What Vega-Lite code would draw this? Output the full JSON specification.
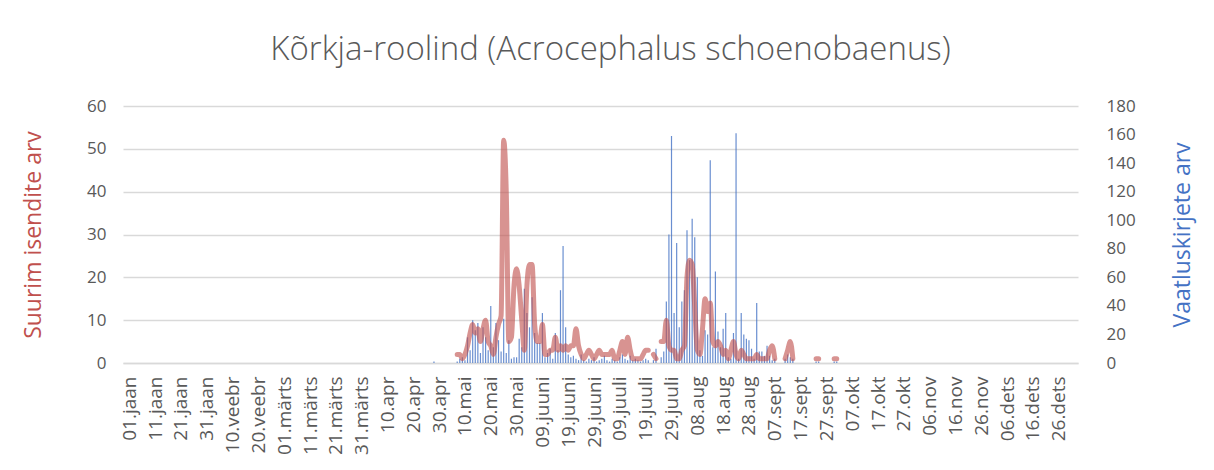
{
  "$schema": "https://vega.github.io/schema/vega-lite/v6.json",
  "width": 955,
  "height": 257,
  "autosize": {"type": "none"},
  "padding": {"left": 123, "top": 106, "right": 136, "bottom": 107},
  "background": "white",
  "config": {
    "font": "Open Sans",
    "view": {"stroke": null},
    "axis": {"labelFont": "Open Sans", "titleFont": "Open Sans", "labelColor": "#595959", "ticks": false, "domain": false, "titleFontWeight": "normal"}
  },
  "title": {
    "text": "Kõrkja-roolind (Acrocephalus schoenobaenus)",
    "fontSize": 33,
    "fontWeight": 300,
    "color": "#595959",
    "font": "Open Sans",
    "anchor": "middle",
    "dx": 10,
    "offset": 30
  },
  "data": {
    "values": [
      {"day": 119, "records": 1, "max": null},
      {"day": 128, "records": 1, "max": 2},
      {"day": 129, "records": 3, "max": 2},
      {"day": 130, "records": 4, "max": 1},
      {"day": 131, "records": 2, "max": 2},
      {"day": 132, "records": 18, "max": 4},
      {"day": 133, "records": 9, "max": 7},
      {"day": 134, "records": 30, "max": 9},
      {"day": 135, "records": 23, "max": 7},
      {"day": 136, "records": 28, "max": 8},
      {"day": 137, "records": 7, "max": 5},
      {"day": 138, "records": 25, "max": 8},
      {"day": 139, "records": 18, "max": 10},
      {"day": 140, "records": 9, "max": 5},
      {"day": 141, "records": 40, "max": 4},
      {"day": 142, "records": 11, "max": 2},
      {"day": 143, "records": 28, "max": 6},
      {"day": 144, "records": 16, "max": 9},
      {"day": 145, "records": 8, "max": 11},
      {"day": 146, "records": 31, "max": 52},
      {"day": 147, "records": 7, "max": 40},
      {"day": 148, "records": 16, "max": 5},
      {"day": 149, "records": 3, "max": 6},
      {"day": 150, "records": 4, "max": 18},
      {"day": 151, "records": 4, "max": 22},
      {"day": 152, "records": 17, "max": 18},
      {"day": 153, "records": 11, "max": 10},
      {"day": 154, "records": 52, "max": 3},
      {"day": 155, "records": 35, "max": 18},
      {"day": 156, "records": 25, "max": 23},
      {"day": 157, "records": 46, "max": 23},
      {"day": 158, "records": 21, "max": 9},
      {"day": 159, "records": 14, "max": 5},
      {"day": 160, "records": 14, "max": 5},
      {"day": 161, "records": 35, "max": 9},
      {"day": 162, "records": 4, "max": 2},
      {"day": 163, "records": 7, "max": 2},
      {"day": 164, "records": 10, "max": 3},
      {"day": 165, "records": 3, "max": 3},
      {"day": 166, "records": 21, "max": 6},
      {"day": 167, "records": 9, "max": 3},
      {"day": 168, "records": 51, "max": 4},
      {"day": 169, "records": 82, "max": 3},
      {"day": 170, "records": 25, "max": 4},
      {"day": 171, "records": 6, "max": 3},
      {"day": 172, "records": 4, "max": 4},
      {"day": 173, "records": 5, "max": 4},
      {"day": 174, "records": 3, "max": 8},
      {"day": 175, "records": 2, "max": 4},
      {"day": 176, "records": 6, "max": 2},
      {"day": 177, "records": 2, "max": 1},
      {"day": 178, "records": 1, "max": 2},
      {"day": 179, "records": 3, "max": 3},
      {"day": 180, "records": 2, "max": 2},
      {"day": 181, "records": 4, "max": 1},
      {"day": 182, "records": 1, "max": 2},
      {"day": 183, "records": 2, "max": 3},
      {"day": 184, "records": 3, "max": 2},
      {"day": 185, "records": 5, "max": 2},
      {"day": 186, "records": 2, "max": 2},
      {"day": 187, "records": 1, "max": 2},
      {"day": 188, "records": 3, "max": 3},
      {"day": 189, "records": 2, "max": 1},
      {"day": 190, "records": 1, "max": 1},
      {"day": 191, "records": 4, "max": 3},
      {"day": 192, "records": 6, "max": 5},
      {"day": 193, "records": 3, "max": 2},
      {"day": 194, "records": 2, "max": 6},
      {"day": 195, "records": 5, "max": 3},
      {"day": 196, "records": 2, "max": 1},
      {"day": 197, "records": 3, "max": 1},
      {"day": 198, "records": 2, "max": 1},
      {"day": 199, "records": 1, "max": 1},
      {"day": 200, "records": 2, "max": 2},
      {"day": 201, "records": 3, "max": 3},
      {"day": 202, "records": 2, "max": 3},
      {"day": 203, "records": null, "max": null},
      {"day": 204, "records": 2, "max": 2},
      {"day": 205, "records": 10, "max": 1},
      {"day": 206, "records": null, "max": null},
      {"day": 207, "records": 4, "max": 5},
      {"day": 208, "records": 8, "max": 5},
      {"day": 209, "records": 43, "max": 10},
      {"day": 210, "records": 90, "max": 4},
      {"day": 211, "records": 159, "max": 3},
      {"day": 212, "records": 35, "max": 3},
      {"day": 213, "records": 84, "max": 1},
      {"day": 214, "records": 25, "max": 1},
      {"day": 215, "records": 43, "max": 3},
      {"day": 216, "records": 51, "max": 4},
      {"day": 217, "records": 93, "max": 20},
      {"day": 218, "records": 72, "max": 24},
      {"day": 219, "records": 101, "max": 23},
      {"day": 220, "records": 88, "max": 13},
      {"day": 221, "records": 60, "max": 3},
      {"day": 222, "records": 9, "max": 2},
      {"day": 223, "records": 5, "max": 8},
      {"day": 224, "records": 23, "max": 15},
      {"day": 225, "records": 20, "max": 12},
      {"day": 226, "records": 142, "max": 14},
      {"day": 227, "records": 11, "max": 5},
      {"day": 228, "records": 64, "max": 4},
      {"day": 229, "records": 22, "max": 5},
      {"day": 230, "records": 11, "max": 4},
      {"day": 231, "records": 24, "max": 2},
      {"day": 232, "records": 35, "max": 3},
      {"day": 233, "records": 4, "max": 1},
      {"day": 234, "records": 3, "max": 3},
      {"day": 235, "records": 21, "max": 5},
      {"day": 236, "records": 161, "max": 2},
      {"day": 237, "records": 3, "max": 1},
      {"day": 238, "records": 35, "max": 3},
      {"day": 239, "records": 20, "max": 2},
      {"day": 240, "records": 17, "max": 1},
      {"day": 241, "records": 16, "max": 1},
      {"day": 242, "records": 10, "max": 1},
      {"day": 243, "records": 3, "max": 1},
      {"day": 244, "records": 42, "max": 2},
      {"day": 245, "records": 8, "max": 1},
      {"day": 246, "records": 8, "max": 1},
      {"day": 247, "records": 5, "max": 1},
      {"day": 248, "records": 12, "max": 1},
      {"day": 249, "records": 5, "max": 3},
      {"day": 250, "records": 2, "max": 4},
      {"day": 251, "records": 3, "max": 1},
      {"day": 252, "records": null, "max": null},
      {"day": 255, "records": 3, "max": 1},
      {"day": 256, "records": 6, "max": 3},
      {"day": 257, "records": 4, "max": 5},
      {"day": 258, "records": 3, "max": 1},
      {"day": 259, "records": null, "max": null},
      {"day": 267, "records": 1, "max": 1},
      {"day": 268, "records": 1, "max": 1},
      {"day": 269, "records": null, "max": null},
      {"day": 274, "records": 1, "max": 1},
      {"day": 275, "records": 1, "max": 1}
    ]
  },
  "encoding": {
    "x": {
      "field": "day",
      "type": "quantitative",
      "scale": {"domain": [0.5, 366.5], "nice": false, "zero": false},
      "axis": {
        "title": null,
        "values": [1, 11, 21, 31, 41, 51, 61, 71, 81, 91, 101, 111, 121, 131, 141, 151, 161, 171, 181, 191, 201, 211, 221, 231, 241, 251, 261, 271, 281, 291, 301, 311, 321, 331, 341, 351, 361],
        "labelExpr": "['01.jaan','11.jaan','21.jaan','31.jaan','10.veebr','20.veebr','01.märts','11.märts','21.märts','31.märts','10.apr','20.apr','30.apr','10.mai','20.mai','30.mai','09.juuni','19.juuni','29.juuni','09.juuli','19.juuli','29.juuli','08.aug','18.aug','28.aug','07.sept','17.sept','27.sept','07.okt','17.okt','27.okt','06.nov','16.nov','26.nov','06.dets','16.dets','26.dets'][floor((datum.value - 1) / 10)]",
        "labelAngle": -90,
        "labelAlign": "right",
        "labelBaseline": "middle",
        "labelFontSize": 19,
        "labelPadding": 13,
        "labelOverlap": false,
        "labelBound": false,
        "labelFlush": false,
        "domain": true,
        "domainColor": "#D9D9D9",
        "domainWidth": 1.5,
        "grid": false
      }
    }
  },
  "layer": [
    {
      "mark": {"type": "bar", "color": "#4472C4", "opacity": 0.8, "width": 1.2},
      "encoding": {
        "y": {
          "field": "records",
          "type": "quantitative",
          "scale": {"domain": [0, 180], "nice": false},
          "axis": {
            "orient": "right",
            "title": "Vaatluskirjete arv",
            "titleColor": "#4472C4",
            "titleFontSize": 23,
            "titleAngle": -90,
            "titleX": 104,
            "titleY": 128.5,
            "titleAlign": "center",
            "titleBaseline": "middle",
            "values": [0, 20, 40, 60, 80, 100, 120, 140, 160, 180],
            "labelFontSize": 17,
            "labelPadding": 28,
            "labelAlign": "left",
            "grid": false
          }
        }
      }
    },
    {
      "mark": {"type": "line", "color": "#C0504D", "opacity": 0.62, "strokeWidth": 5, "interpolate": "monotone", "strokeCap": "round", "strokeJoin": "round", "invalid": "break-paths-filter-domains"},
      "encoding": {
        "y": {
          "field": "max",
          "type": "quantitative",
          "scale": {"domain": [0, 60], "nice": false},
          "axis": {
            "orient": "left",
            "title": "Suurim isendite arv",
            "titleColor": "#C0504D",
            "titleFontSize": 23,
            "titleAngle": -90,
            "titleX": -90,
            "titleY": 128.5,
            "titleAlign": "center",
            "titleBaseline": "middle",
            "values": [0, 10, 20, 30, 40, 50, 60],
            "labelFontSize": 17,
            "labelPadding": 17,
            "grid": true,
            "gridColor": "#D9D9D9",
            "gridWidth": 1.5
          }
        }
      }
    }
  ],
  "resolve": {"scale": {"y": "independent"}}
}
